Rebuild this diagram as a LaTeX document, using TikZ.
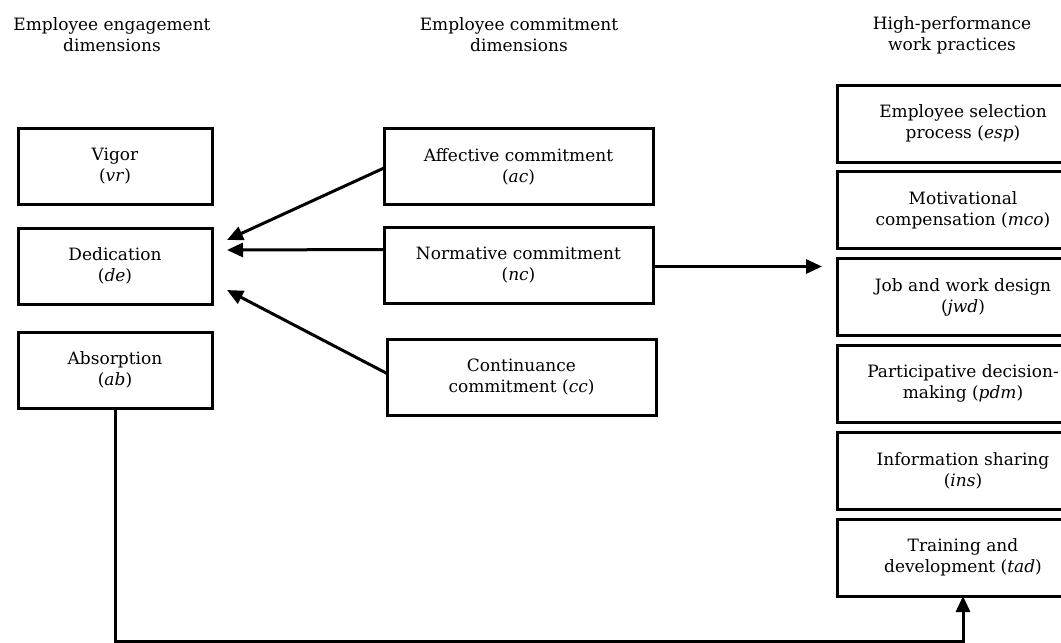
\documentclass[tikz,border=0pt]{standalone}
\usepackage{fontspec}
\setmainfont{DejaVu Serif}
\usetikzlibrary{arrows.meta,positioning,calc}

\tikzset{
  dimbox/.style={draw, line width=3pt, align=center, inner sep=0pt,
    outer sep=0pt, minimum height=76pt},
  leftbox/.style={dimbox, minimum width=194pt},
  midbox/.style={dimbox, minimum width=269pt},
  hrbox/.style={dimbox, minimum width=252pt, minimum height=77pt},
  colhead/.style={align=center},
  link/.style={line width=3pt, -{Triangle[length=16pt,width=14pt]}}
}

\begin{document}
\begin{tikzpicture}[x=1pt, y=-1pt, node distance=24pt,
    font=\fontsize{17}{21}\selectfont]
    \useasboundingbox (0,0) rectangle (1061,643);

    % Column headings
    \node[colhead] (hdeng) at (112,35) {Employee engagement\\dimensions};
    \node[colhead] (hdcom) at (519,35) {Employee commitment\\dimensions};
    \node[colhead] (hdhpw) at (952,35) {High-performance\\work practices};

    % Engagement dimensions
    \node[leftbox] (vr) at (115,166) {Vigor\\(\textit{vr})};
    \node[leftbox, below=of vr] (de) {Dedication\\(\textit{de})};
    \node[leftbox, below=28pt of de] (ab) {Absorption\\(\textit{ab})};

    % Commitment dimensions
    \node[midbox] (ac) at (518.5,166.5) {Affective commitment\\(\textit{ac})};
    \node[midbox, below=23pt of ac] (nc) {Normative commitment\\(\textit{nc})};
    \node[midbox] (cc) at (521.5,377.5) {Continuance\\commitment (\textit{cc})};

    % High-performance work practices
    \node[hrbox] (esp) at (963,123.5) {Employee selection\\process (\textit{esp})};
    \node[hrbox, below=9.8pt of esp] (mco) {Motivational\\compensation (\textit{mco})};
    \node[hrbox, below=9.8pt of mco] (jwd) {Job and work design\\(\textit{jwd})};
    \node[hrbox, below=9.8pt of jwd] (pdm) {Participative decision-\\making (\textit{pdm})};
    \node[hrbox, below=9.8pt of pdm] (ins) {Information sharing\\(\textit{ins})};
    \node[hrbox, below=9.8pt of ins] (tad) {Training and\\development (\textit{tad})};

    % Connectors
    \draw[link] ([yshift=-1.5pt]ac.west) -- ([xshift=15pt,yshift=26pt]de.east);
    \draw[link] ([yshift=16pt]nc.west) -- ([xshift=15pt,yshift=16pt]de.east);
    \draw[link] ([yshift=4pt]cc.west) -- ([xshift=15pt,yshift=-24pt]de.east);
    \draw[link, shorten >=15pt] ([yshift=-1pt]nc.east) -- ([yshift=-1pt]nc.east -| jwd.west);

    \coordinate (turn) at ($(ab.south)+(0,233)$);
    \draw[link] (ab.south) -- (turn) -| (tad.south);
\end{tikzpicture}
\end{document}
